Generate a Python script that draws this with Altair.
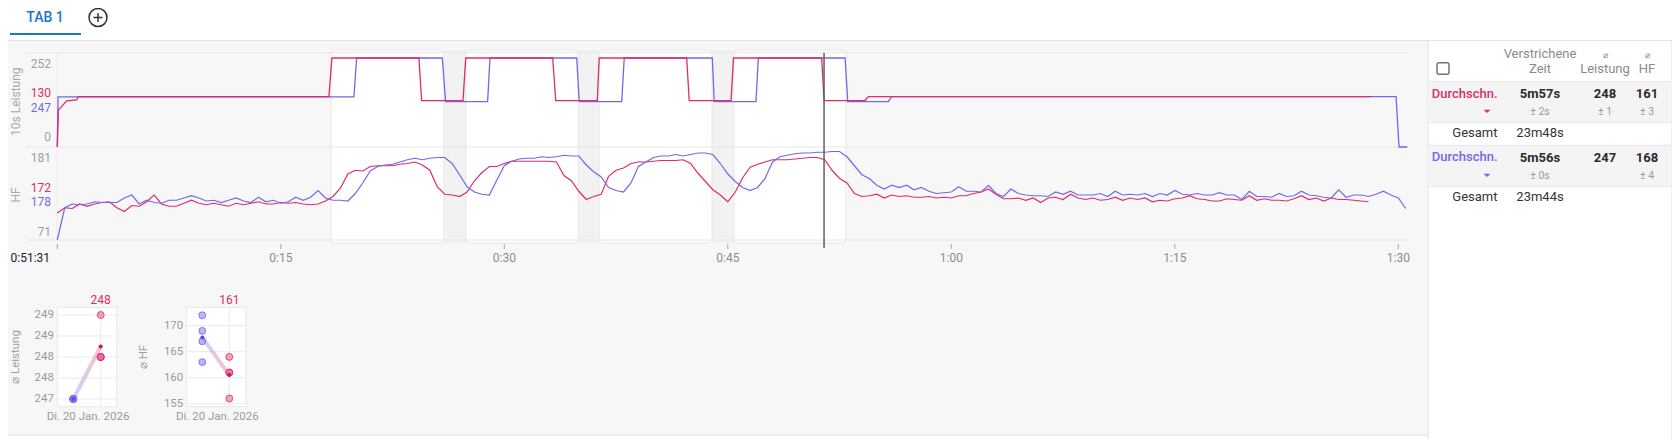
import altair as alt
import pandas as pd

FONT = "Roboto"
PINK = "#de2c6c"
BLUE = "#7467e8"
OFF = 8  # page margin

# ---------------- data ----------------
HF_DT = 0.5  # minutes between HF samples
HF_PINK = [
    106, 113, 112, 118, 115, 118, 120, 121, 113, 108,
    116, 115, 121, 130, 118, 115, 115, 119, 123, 119,
    117, 119, 117, 115, 119, 117, 119, 121, 118, 118,
    120, 119, 120, 118, 117, 118, 122, 128, 139, 158,
    163, 162, 168, 169, 169, 169, 171, 172, 174, 170,
    163, 141, 131, 130, 128, 134, 149, 160, 168, 168,
    172, 175, 175, 175, 175, 175, 175, 174, 156, 149,
    135, 124, 128, 131, 155, 163, 166, 172, 174, 174,
    175, 176, 176, 176, 177, 172, 159, 148, 137, 130,
    121, 134, 153, 167, 171, 174, 177, 177, 177, 178,
    179, 180, 180, 177, 163, 152, 146, 132, 128, 129,
    131, 126, 130, 128, 129, 127, 127, 128, 126, 127,
    126, 129, 129, 132, 134, 138, 131, 125, 125, 126,
    123, 126, 120, 126, 127, 124, 131, 126, 124, 126,
    123, 124, 127, 123, 126, 124, 126, 121, 123, 122,
    125, 126, 129, 125, 124, 122, 122, 125, 124, 123,
    129, 123, 125, 123, 123, 122, 125, 129, 124, 126,
    122, 126, 124, 124, 123, 122, 121,
]
HF_BLUE = [
    70, 113, 118, 117, 118, 121, 120, 120, 120, 126,
    130, 118, 123, 120, 119, 123, 123, 126, 129, 126,
    122, 123, 120, 123, 126, 122, 120, 127, 121, 123,
    119, 121, 127, 123, 127, 136, 126, 123, 123, 122,
    132, 146, 162, 168, 170, 171, 174, 177, 179, 177,
    179, 180, 180, 172, 157, 141, 134, 131, 130, 150,
    169, 175, 178, 179, 179, 181, 180, 181, 183, 182,
    182, 170, 161, 154, 140, 136, 134, 146, 168, 174,
    180, 182, 182, 184, 182, 184, 186, 186, 184, 172,
    158, 148, 140, 136, 140, 152, 174, 181, 183, 185,
    186, 186, 187, 187, 188, 188, 181, 169, 157, 152,
    143, 138, 143, 140, 143, 137, 140, 135, 132, 133,
    134, 141, 135, 135, 134, 143, 132, 128, 138, 132,
    130, 129, 129, 128, 134, 131, 135, 130, 130, 130,
    132, 128, 135, 130, 131, 130, 132, 128, 132, 130,
    136, 131, 130, 132, 130, 130, 133, 130, 130, 124,
    135, 128, 128, 127, 132, 128, 129, 135, 130, 129,
    127, 126, 137, 127, 130, 130, 128, 131, 135, 130, 126, 112,
]
PW_PINK_T = [0, 0.07, 0.18, 0.63, 1.30, 1.41, 18.23, 18.43, 24.27, 24.45, 27.23, 27.41,
             33.25, 33.45, 36.24, 36.37, 42.24, 42.41, 45.22, 45.38, 51.30, 51.46,
             54.21, 54.43, 88.20]
PW_PINK_W = [0, 104, 108, 129, 132, 141, 141, 249, 249, 130, 130, 249,
             249, 130, 130, 249, 249, 130, 130, 249, 249, 130,
             130, 141, 141]
PW_BLUE_T = [0, 0.05, 19.91, 20.09, 25.84, 26.06, 28.88, 29.04, 34.86, 35.03, 37.88, 38.05,
             43.96, 44.09, 46.89, 47.05, 52.87, 53.05, 55.77, 56.00, 89.85, 90.05, 90.60]
PW_BLUE_W = [0, 140, 140, 249, 249, 127, 127, 249, 249, 127, 127, 249,
             249, 127, 127, 249, 249, 127, 127, 141, 141, 0, 0]

INT_START = [18.37, 27.43, 36.36, 45.41]
INT_END = [25.95, 34.96, 43.94, 52.93]
CURSOR_T = 51.46
TICK_MIN = [0, 15, 30, 45, 60, 75, 90]
TICK_LABELS = ["", "0:15", "0:30", "0:45", "1:00", "1:15", "1:30"]
START_CLOCK = "0:51:31"
PANEL_TITLES = ["10s Leistung", "HF"]
PW_AXIS = ["252", "0"]
PW_CURSOR = ["130", "247"]
HF_AXIS = ["181", "71"]
HF_CURSOR = ["172", "178"]

AVG_PW_PINK = [249, 248, 248, 248]
AVG_PW_BLUE = [247, 247, 247, 247]
AVG_HF_PINK = [164, 161, 161, 156]
AVG_HF_BLUE = [172, 169, 167, 163]
PW_TICKS = [247, 247.5, 248, 248.5, 249]
HF_TICKS = [155, 160, 165, 170]
DATE_LABEL = "Di. 20 Jan. 2026"
SMALL_TITLES = ["⌀ Leistung", "⌀ HF"]

TAB_LABEL = "TAB 1"
HEADER_TOP = ["Verstrichene", "⌀", "⌀"]
HEADER_BOTTOM = ["Zeit", "Leistung", "HF"]
ROW_LABEL = "Durchschn."
TOTAL_LABEL = "Gesamt"
PINK_VALS = ["5m57s", "248", "161"]
PINK_SDS = ["± 2s", "± 1", "± 3"]
PINK_TOTAL = "23m48s"
BLUE_VALS = ["5m56s", "247", "168"]
BLUE_SDS = ["± 0s", "", "± 4"]
BLUE_TOTAL = "23m44s"

ONE = pd.DataFrame({"k": [0]})
L = []


def box(x1, y1, x2, y2, fill, stroke=None, sw=0, r=0):
    kw = dict(fill=fill, strokeWidth=sw, cornerRadius=r)
    if stroke:
        kw["stroke"] = stroke
    return alt.Chart(ONE).mark_rect(**kw).encode(
        x=alt.value(x1 - OFF), x2=alt.value(x2 - OFF),
        y=alt.value(y1 - OFF), y2=alt.value(y2 - OFF))


def seg(x1, y1, x2, y2, color, w=1.0):
    return alt.Chart(ONE).mark_rule(color=color, strokeWidth=w).encode(
        x=alt.value(x1 - OFF), x2=alt.value(x2 - OFF),
        y=alt.value(y1 - OFF), y2=alt.value(y2 - OFF))


def label(s, x, y, size=12, color="#333", align="center", weight="normal", angle=0):
    return alt.Chart(ONE).mark_text(
        text=s, font=FONT, fontSize=size, color=color, align=align,
        baseline="middle", fontWeight=weight, angle=angle).encode(
        x=alt.value(x - OFF), y=alt.value(y - OFF))


def glyph(shape, x, y, size, color, filled=True, sw=1.5):
    kw = dict(shape=shape, size=size, filled=filled, opacity=1, strokeWidth=sw)
    if filled:
        kw["fill"] = color
        kw["strokeWidth"] = 0
    else:
        kw["stroke"] = color
    return alt.Chart(ONE).mark_point(**kw).encode(x=alt.value(x - OFF), y=alt.value(y - OFF))


# ---------------- page chrome ----------------
L.append(box(0, 41, 1428, 435, "#f7f7f7"))
L.append(seg(0, 435, 1428, 435, "#e2e2e2"))
L.append(box(1428, 41, 1671, 447, "#ffffff"))
L.append(box(1671, 41, 1680, 447, "#efeff1"))
L.append(seg(1428, 41, 1428, 447, "#e2e2e2"))
L.append(seg(0, 40.5, 1680, 40.5, "#e4e4e4"))
L.append(label(TAB_LABEL, 45, 18, size=14, color="#1976d2", weight=500))
L.append(box(10, 33, 81, 35, "#1976d2"))
L.append(glyph("circle", 98, 17.5, 324, "#333333", filled=False, sw=1.5))
L.append(glyph("M-0.5,0L0.5,0M0,-0.5L0,0.5", 98, 17.5, 324, "#333333", filled=False, sw=1.5))

# ---------------- main time chart ----------------
X_SC = alt.Scale(domain=[0, 90], range=[57.3 - OFF, 57.3 + 14.9 * 90 - OFF], nice=False, zero=False)
PW_SC = alt.Scale(domain=[0, 263], range=[147 - OFF, 53 - OFF], nice=False, zero=False)
HF_SC = alt.Scale(domain=[70, 194], range=[240 - OFF, 147 - OFF], nice=False, zero=False)

rec = pd.DataFrame({"a": INT_END[:-1], "b": INT_START[1:]})
L.append(alt.Chart(rec).mark_rect(fill="#f2f2f2").encode(
    x=alt.X("a:Q", scale=X_SC, axis=None), x2="b:Q",
    y=alt.value(50 - OFF), y2=alt.value(243 - OFF)))
iv = pd.DataFrame({"a": INT_START, "b": INT_END})
L.append(alt.Chart(iv).mark_rect(fill="#ffffff", stroke="#e6e6e6", strokeWidth=1, cornerRadius=4).encode(
    x=alt.X("a:Q", scale=X_SC, axis=None), x2="b:Q",
    y=alt.value(50 - OFF), y2=alt.value(243 - OFF)))

for yy in (52.7, 147, 240):
    L.append(seg(27, yy, 1408, yy, "#e6e6e6"))
L.append(seg(57, 52.7, 57, 240, "#ececec"))


def series(t, v, color, ysc, w=1.2):
    df = pd.DataFrame({"t": t, "v": v})
    return alt.Chart(df).mark_line(color=color, strokeWidth=w).encode(
        x=alt.X("t:Q", scale=X_SC, axis=None),
        y=alt.Y("v:Q", scale=ysc, axis=None),
        order="t:Q")


L.append(series(PW_BLUE_T, PW_BLUE_W, BLUE, PW_SC, 1.3))
L.append(series(PW_PINK_T, PW_PINK_W, PINK, PW_SC, 1.3))
L.append(series([i * HF_DT for i in range(len(HF_PINK))], HF_PINK, PINK, HF_SC))
L.append(series([i * HF_DT for i in range(len(HF_BLUE))], HF_BLUE, BLUE, HF_SC))

cur = pd.DataFrame({"t": [CURSOR_T]})
L.append(alt.Chart(cur).mark_rule(color="#5f5f5f", strokeWidth=1.5).encode(
    x=alt.X("t:Q", scale=X_SC, axis=None), y=alt.value(53 - OFF), y2=alt.value(248 - OFF)))

ticks = pd.DataFrame({"t": TICK_MIN, "lab": TICK_LABELS})
L.append(alt.Chart(ticks).mark_rule(color="#aaaaaa", strokeWidth=1).encode(
    x=alt.X("t:Q", scale=X_SC, axis=None), y=alt.value(244 - OFF), y2=alt.value(249 - OFF)))
L.append(alt.Chart(ticks).mark_text(font=FONT, fontSize=12, color="#8c8c8c", baseline="middle").encode(
    x=alt.X("t:Q", scale=X_SC, axis=None), y=alt.value(258 - OFF), text="lab:N"))
L.append(label(START_CLOCK, 10.5, 258, size=12, color="#222222", align="left"))

# y labels of the two panels
L.append(label(PW_AXIS[0], 51, 64, color="#9e9e9e", align="right"))
L.append(label(PW_CURSOR[0], 51, 93.3, color=PINK, align="right"))
L.append(label(PW_CURSOR[1], 51, 108, color=BLUE, align="right"))
L.append(label(PW_AXIS[1], 51, 137, color="#9e9e9e", align="right"))
L.append(label(HF_AXIS[0], 51, 158.3, color="#9e9e9e", align="right"))
L.append(label(HF_CURSOR[0], 51, 187.7, color=PINK, align="right"))
L.append(label(HF_CURSOR[1], 51, 202.3, color=BLUE, align="right"))
L.append(label(HF_AXIS[1], 51, 231.7, color="#9e9e9e", align="right"))
L.append(label(PANEL_TITLES[0], 15.5, 101.7, color="#a8a8a8", angle=270))
L.append(label(PANEL_TITLES[1], 15.5, 195, color="#a8a8a8", angle=270))

# ---------------- small summary charts ----------------
def small_chart(xl, xr, xb, xp, ysc_dom, yb, yt, pink, blue, tick_vals, lab_x, title, ytitle, ytitle_x):
    xs = alt.Scale(domain=[0, 1], range=[xb - OFF, xp - OFF], nice=False, zero=False)
    ys = alt.Scale(domain=ysc_dom, range=[yb - OFF, yt - OFF], nice=False, zero=False)
    out = [box(xl, 307.3, xr, 406.7, "#ffffff", stroke="#e8e8e8", sw=1)]
    tk = pd.DataFrame({"v": tick_vals})
    out.append(alt.Chart(tk).mark_rule(color="#ebebeb", strokeWidth=1).encode(
        y=alt.Y("v:Q", scale=ys, axis=None), x=alt.value(xl - OFF), x2=alt.value(xr - OFF)))
    out.append(alt.Chart(tk).mark_text(font=FONT, fontSize=11.5, color="#9a9a9a", align="right",
                                       baseline="middle").encode(
        y=alt.Y("v:Q", scale=ys, axis=None), x=alt.value(lab_x - OFF),
        text=alt.Text("v:Q", format=".0f")))
    vg = pd.DataFrame({"p": [1]})
    out.append(alt.Chart(vg).mark_rule(color="#ebebeb", strokeWidth=1).encode(
        x=alt.X("p:Q", scale=xs, axis=None), y=alt.value(307.3 - OFF), y2=alt.value(406.7 - OFF)))
    mb = sum(blue) / len(blue)
    mp = sum(pink) / len(pink)
    ln = pd.DataFrame({"p": [0, 1], "v": [mb, mp]})
    out.append(alt.Chart(ln).mark_line(
        strokeWidth=4, opacity=0.3,
        color=alt.Gradient(gradient="linear", x1=0, x2=1, y1=0, y2=0,
                           stops=[alt.GradientStop(color=BLUE, offset=0),
                                  alt.GradientStop(color=PINK, offset=1)])).encode(
        x=alt.X("p:Q", scale=xs, axis=None), y=alt.Y("v:Q", scale=ys, axis=None)))
    pb = pd.DataFrame({"p": [0] * len(blue), "v": blue})
    out.append(alt.Chart(pb).mark_point(filled=True, size=48, fill="#8f82f0", fillOpacity=0.6,
                                        stroke=BLUE, strokeWidth=1, strokeOpacity=0.8).encode(
        x=alt.X("p:Q", scale=xs, axis=None), y=alt.Y("v:Q", scale=ys, axis=None)))
    pp = pd.DataFrame({"p": [1] * len(pink), "v": pink})
    out.append(alt.Chart(pp).mark_point(filled=True, size=48, fill="#e8679a", fillOpacity=0.6,
                                        stroke=PINK, strokeWidth=1, strokeOpacity=0.8).encode(
        x=alt.X("p:Q", scale=xs, axis=None), y=alt.Y("v:Q", scale=ys, axis=None)))
    av = pd.DataFrame({"p": [0, 1], "v": [mb, mp], "c": ["b", "p"]})
    out.append(alt.Chart(av).mark_point(filled=True, size=16, opacity=1).encode(
        x=alt.X("p:Q", scale=xs, axis=None), y=alt.Y("v:Q", scale=ys, axis=None),
        color=alt.Color("c:N", scale=alt.Scale(domain=["b", "p"], range=["#5a4bd8", "#c8175a"]),
                        legend=None)))
    out.append(label(title, xp, 300, size=12, color=PINK))
    out.append(label(DATE_LABEL, (xl + xr) / 2 + 1, 416.7, size=11.5, color="#9a9a9a"))
    out.append(label(ytitle, ytitle_x, 357, size=11.5, color="#a0a0a0", angle=270))
    return out


L += small_chart(57.3, 116.7, 73.3, 100.7, [247, 249], 399, 315, AVG_PW_PINK, AVG_PW_BLUE,
                 PW_TICKS, 54, PINK_VALS[1], SMALL_TITLES[0], 15.5)
L += small_chart(186.7, 246, 202.3, 229.3, [155, 170], 403.7, 325.7, AVG_HF_PINK, AVG_HF_BLUE,
                 HF_TICKS, 183.3, PINK_VALS[2], SMALL_TITLES[1], 144)

# ---------------- summary table ----------------
L.append(box(1428, 81.7, 1671, 122.7, "#f4f4f4"))
L.append(box(1428, 145.3, 1671, 186.7, "#f4f4f4"))
for yy in (81.7, 122.7, 145.3, 186.7):
    L.append(seg(1428, yy, 1671, yy, "#e6e6e6"))
L.append(box(1437, 62.7, 1449, 74.3, "#ffffff", stroke="#757575", sw=1.5, r=2))

COL_X = [1540, 1605, 1647]
L.append(label(HEADER_TOP[0], COL_X[0], 54, size=13, color="#8a8a8a"))
L.append(label(HEADER_TOP[1], COL_X[1], 55, size=9, color="#8a8a8a"))
L.append(label(HEADER_TOP[2], COL_X[2], 55, size=9, color="#8a8a8a"))
for cx, s in zip(COL_X, HEADER_BOTTOM):
    L.append(label(s, cx, 68.7, size=13, color="#8a8a8a"))


def table_rows(color, vals, sds, total, y_main, y_sd, y_total):
    out = [label(ROW_LABEL, 1497.5, y_main - 0.7, size=13, color=color, align="right", weight=500),
           glyph("M-1,-0.45L1,-0.45L0,0.5Z", 1487, y_sd - 0.5, 49, color)]
    for cx, v in zip(COL_X, vals):
        out.append(label(v, cx, y_main, size=13, color="#2b2b2b", weight="bold"))
    for cx, v in zip(COL_X, sds):
        if v:
            out.append(label(v, cx, y_sd, size=10.5, color="#9a9a9a"))
    out.append(label(TOTAL_LABEL, 1497.5, y_total, size=13, color="#333333", align="right"))
    out.append(label(total, COL_X[0], y_total, size=13, color="#333333"))
    return out


L += table_rows(PINK, PINK_VALS, PINK_SDS, PINK_TOTAL, 94.3, 111.7, 133.3)
L += table_rows(BLUE, BLUE_VALS, BLUE_SDS, BLUE_TOTAL, 158, 175.7, 197.3)

chart = alt.layer(*L).resolve_scale(
    x="independent", y="independent", color="independent"
).properties(
    width=1664, height=431, autosize=alt.AutoSizeParams(type="none"), padding=0
).configure_view(strokeWidth=0)

chart.save("out.html", embed_options={"renderer": "svg", "actions": False})
